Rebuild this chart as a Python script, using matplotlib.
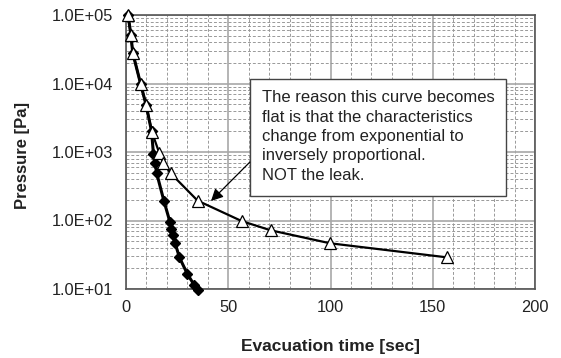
import matplotlib
matplotlib.use("Agg")
import matplotlib.pyplot as plt
from matplotlib.patches import Rectangle
from matplotlib.ticker import FixedLocator, LogLocator, NullFormatter, FixedFormatter

# Data
time_open = [1, 2.4, 3.3, 7.1, 9.8, 12.7, 16.3, 18.3, 21.8, 35, 56.6, 70.7, 99.8, 156.8]
press_open = [1e5, 5.1e4, 2.8e4, 1e4, 4.9e3, 1.95e3, 960, 690, 490, 195, 98, 72, 46.5, 29]

time_fill = [1, 2.4, 3.3, 7.1, 9.8, 12.5, 13.4, 14.2, 15, 18.6, 21.5, 22, 22.8, 24, 26.1, 30, 33.3, 35]
press_fill = [1e5, 5.1e4, 2.8e4, 1e4, 4.9e3, 2e3, 950, 700, 490, 190, 95, 74, 62, 47, 29, 16.6, 11.5, 9.6]

y_ticks = [1e1, 1e2, 1e3, 1e4, 1e5]
y_ticklabels = ["1.0E+01", "1.0E+02", "1.0E+03", "1.0E+04", "1.0E+05"]
x_ticks = [0, 50, 100, 150, 200]

note = ("The reason this curve becomes\n"
        "flat is that the characteristics\n"
        "change from exponential to\n"
        "inversely proportional.\n"
        "NOT the leak.")

plt.rcParams['font.family'] = ['Liberation Sans', 'DejaVu Sans']

W, H = 561, 358
fig = plt.figure(figsize=(W / 100, H / 100), dpi=100)
ax = fig.add_axes([126 / W, 1 - 289 / H, (535 - 126) / W, (289 - 15) / H])

ax.set_yscale('log')
ax.set_xlim(0, 200)
ax.set_ylim(1e1, 1e5)

ax.xaxis.set_major_locator(FixedLocator(x_ticks))
ax.xaxis.set_minor_locator(FixedLocator(list(range(0, 201, 10))))
ax.yaxis.set_major_locator(FixedLocator(y_ticks))
ax.yaxis.set_major_formatter(FixedFormatter(y_ticklabels))
ax.yaxis.set_minor_locator(LogLocator(base=10, subs=range(2, 10)))
ax.yaxis.set_minor_formatter(NullFormatter())

ax.grid(which='major', color='#a8a8a8', linestyle='-', linewidth=1.2)
ax.grid(which='minor', color='#999999', linestyle=(0, (3, 2)), linewidth=0.7)
ax.set_axisbelow(True)
ax.tick_params(which='both', length=0, labelsize=11.8, colors='#222222')
ax.tick_params(axis='x', pad=8)
ax.tick_params(axis='y', pad=9.5)

for s in ax.spines.values():
    s.set_color('#555555')
    s.set_linewidth(1.2)

ax.plot(time_fill, press_fill, color='black', linewidth=2.2, marker='D', markersize=5,
        markerfacecolor='black', markeredgecolor='black', zorder=3, clip_on=False)
ax.plot(time_open, press_open, color='black', linewidth=1.6, marker='^', markersize=8,
        markerfacecolor='white', markeredgecolor='black', markeredgewidth=0.9, zorder=4, clip_on=False)

# annotation box
ax.add_patch(Rectangle((60.6, 10**2.358), 185.8 - 60.6, 10**4.066 - 10**2.358,
                       facecolor='white', edgecolor='#444444', linewidth=1.0, zorder=6))
ax.text(66.5, 10**3.226, note, fontsize=12, va='center', ha='left', linespacing=1.36,
        color='#222222', zorder=7)

ax.annotate('', xy=(40.6, 180), xytext=(61.5, 760),
            arrowprops=dict(arrowstyle='-|>', color='black', lw=0.9, mutation_scale=18),
            zorder=8)

fig.text(330.5 / W, 1 - 347 / H, 'Evacuation time [sec]', fontsize=12.5, fontweight='bold',
         ha='center', va='center', color='#222222')
fig.text(23 / W, 1 - 155 / H, 'Pressure [Pa]', fontsize=12, fontweight='bold', rotation=90,
         ha='center', va='center', color='#222222')

fig.savefig('out.png', dpi=100)
